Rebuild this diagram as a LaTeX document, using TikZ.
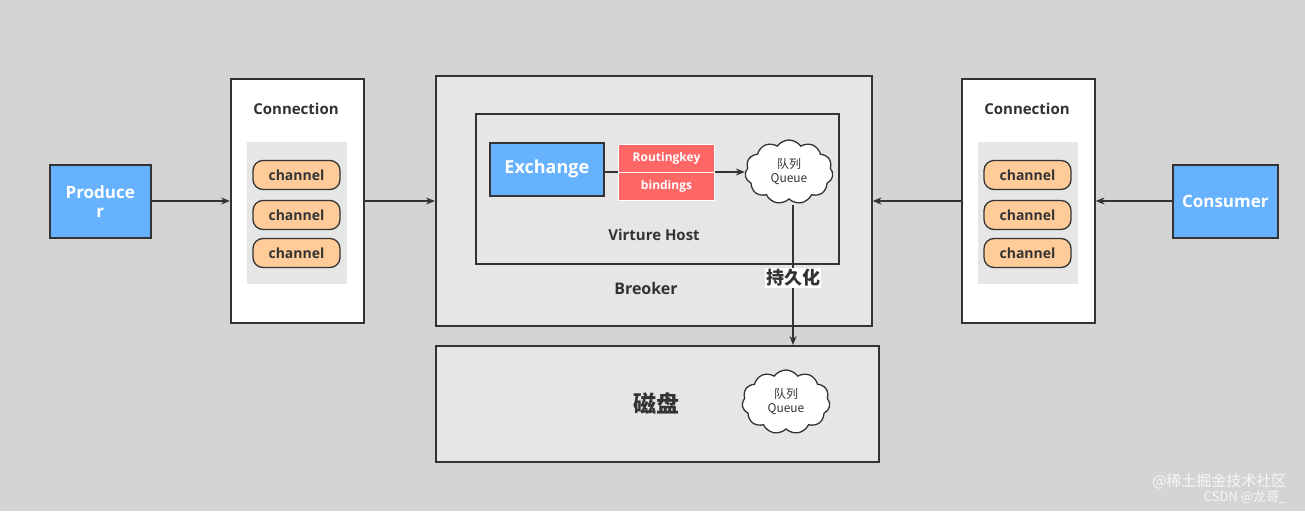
\documentclass[tikz,border=0pt]{standalone}
\usepackage{fontspec}
\setmainfont{Open Sans}
\newfontfamily\cjk{Noto Sans CJK SC}
\usetikzlibrary{shapes.symbols,arrows.meta}
\definecolor{bg}{HTML}{D4D4D4}
\definecolor{bl}{HTML}{66B2FF}
\definecolor{rd}{HTML}{FF6666}
\definecolor{pill}{HTML}{FFCC99}
\definecolor{lg}{HTML}{E6E6E6}
\definecolor{ed}{HTML}{333333}
\begin{document}
\begin{tikzpicture}[x=1pt,y=-1pt,text=ed,
 box/.style={draw=ed,line width=1.6pt,anchor=north west,inner sep=0},
 blue/.style={box,fill=bl,text=white,font=\fontsize{17}{19}\selectfont\bfseries,align=center},
 ch/.style={draw=ed,line width=1.3pt,fill=pill,rounded corners=10pt,minimum width=87pt,minimum height=29pt,font=\fontsize{14}{16}\selectfont\bfseries},
 arr/.style={draw=ed,line width=1.3pt,-{Stealth[length=9pt,width=7pt]}},
 red/.style={anchor=north west,fill=rd,draw=white,line width=1pt,minimum width=96pt,minimum height=28pt,inner sep=0,text=white,font=\fontsize{12}{14}\selectfont\bfseries},
 cl/.style={cloud,cloud puffs=11,cloud puff arc=110,aspect=1.5,draw=ed,line width=1.3pt,fill=white,minimum width=88pt,minimum height=64pt,align=center,font=\cjk\fontsize{12}{14}\selectfont}]
\fill[bg] (0,0) rectangle (1305,511);
\useasboundingbox (0,0) rectangle (1305,511);
% producer
\node[blue,minimum width=101pt,minimum height=73pt] (prod) at (49,164) {Produce\\r};
% left connection
\node[box,fill=white,minimum width=133pt,minimum height=244pt] (lc) at (230,78) {};
\node[font=\fontsize{15}{17}\selectfont\bfseries] (lct) at (296,109) {Connection};
\node[anchor=north west,fill=lg,minimum width=100pt,minimum height=142pt,inner sep=0] (lcg) at (247,142) {};
\node[ch] (l1) at (296.5,175) {channel};
\node[ch] (l2) at (296.5,215) {channel};
\node[ch] (l3) at (296.5,253) {channel};
% broker
\node[box,fill=lg,minimum width=436pt,minimum height=250pt] (brk) at (435,75) {};
\node[box,fill=lg,minimum width=363pt,minimum height=150pt] (vh) at (475,113) {};
\node[font=\fontsize{15}{17}\selectfont\bfseries] (vht) at (654,235) {Virture Host};
\node[font=\fontsize{16}{18}\selectfont\bfseries] (brt) at (646,288) {Breoker};
\node[blue,minimum width=114pt,minimum height=53pt,font=\fontsize{18}{20}\selectfont\bfseries] (ex) at (489,142) {Exchange};
\node[cl] (q1) at (789,172) {队列\\Queue};
\coordinate (rs) at (618,172);
\draw[arr] (ex.east|-rs) -- (q1.west|-rs);
\node[red] (rk) at (618,144) {Routingkey};
\node[red] (bd) at (618,172) {bindings};
% disk
\node[box,fill=lg,minimum width=443pt,minimum height=116pt] (disk) at (435,345) {};
\node[font=\cjk\fontsize{23}{25}\selectfont\bfseries] (dt) at (656,404) {磁盘};
\node[cl] (q2) at (786,402) {队列\\Queue};
\coordinate (qb) at (793,205);
\draw[arr] (qb) -- (793,345);
\node[fill=white,inner sep=1pt,font=\cjk\fontsize{18}{20}\selectfont\bfseries] (pj) at (793,278) {持久化};
% right connection
\node[box,fill=white,minimum width=133pt,minimum height=244pt] (rc) at (961,78) {};
\node[font=\fontsize{15}{17}\selectfont\bfseries] (rct) at (1027,109) {Connection};
\node[anchor=north west,fill=lg,minimum width=100pt,minimum height=142pt,inner sep=0] (rcg) at (978,142) {};
\node[ch] (r1) at (1027.5,175) {channel};
\node[ch] (r2) at (1027.5,215) {channel};
\node[ch] (r3) at (1027.5,253) {channel};
\node[blue,minimum width=105pt,minimum height=73pt] (cons) at (1172,164) {Consumer};
% arrows
\draw[arr] (prod.east|-0,201) -- (lc.west|-0,201);
\draw[arr] (lc.east|-0,201) -- (brk.west|-0,201);
\draw[arr] (rc.west|-0,201) -- (brk.east|-0,201);
\draw[arr] (cons.west|-0,201) -- (rc.east|-0,201);
% watermark
\node[anchor=east,text=white,opacity=0.8,font=\cjk\fontsize{15}{17}\selectfont] (wm1) at (1290,481) {@稀土掘金技术社区};
\node[anchor=east,text=white,opacity=0.8,font=\cjk\fontsize{13}{15}\selectfont] (wm2) at (1290,497) {CSDN @龙哥\_};
\end{tikzpicture}
\end{document}
